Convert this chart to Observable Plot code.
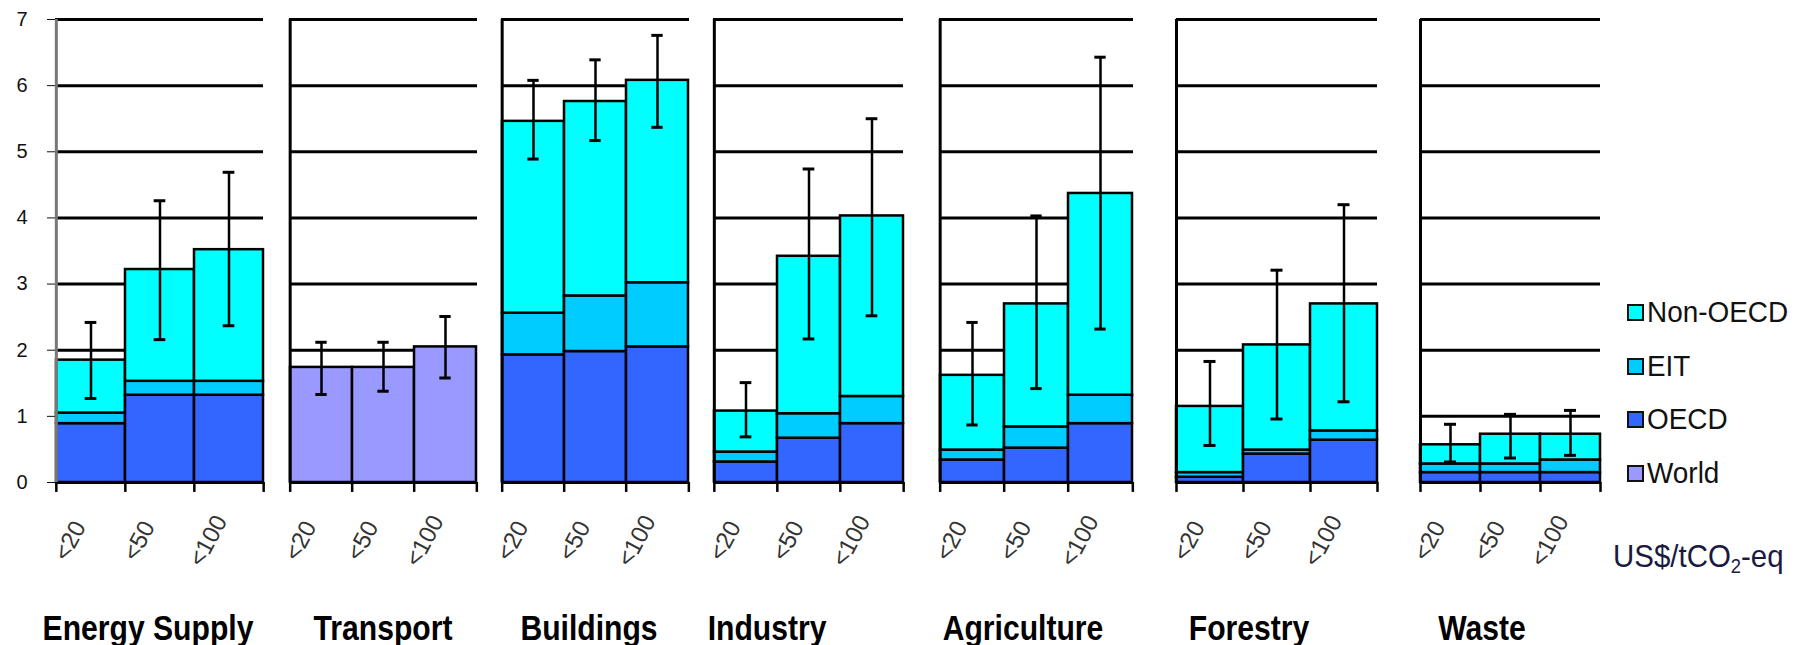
<!DOCTYPE html>
<html>
<head>
<meta charset="utf-8">
<script src="https://cdn.jsdelivr.net/npm/d3@7"></script>
<script src="https://cdn.jsdelivr.net/npm/@observablehq/plot@0.6"></script>
<style>
  body { margin: 0; background: #fff; }
  #chart { position: relative; width: 1794px; height: 645px; overflow: hidden;
           font-family: "Liberation Sans Narrow", "Liberation Sans", Arial, sans-serif; color: #111; }
  .panel { position: absolute; top: 0; }
  .title { position: absolute; top: 627px; transform: translate(-50%, -50%) scaleX(0.86); font-weight: bold;
           font-size: 35px; line-height: 1; white-space: nowrap; color: #000; }
  .legend { position: absolute; left: 1627px; top: 0; }
  .legend .row { position: absolute; left: 0; display: flex; align-items: center; transform: translateY(-50%); white-space: nowrap; }
  .legend .sw { width: 13px; height: 13px; border: 2.5px solid #111; margin-right: 3px; }
  .legend .lab { font-size: 30px; line-height: 1; color: #111; display: inline-block; transform: scaleX(0.93); transform-origin: left center; }
  .unit { position: absolute; left: 1613px; top: 558px; transform: translateY(-50%) scaleX(0.92); transform-origin: left center;
          font-size: 32px; line-height: 1; white-space: nowrap; color: #1a1a40; }
  .unit sub { font-size: 20px; vertical-align: -6px; }
</style>
</head>
<body>
<div id="chart"></div>
<script>
// ---- data: economic mitigation potential by sector in 2030 (GtCO2-eq/yr) ----
const sectors = ["Energy Supply", "Transport", "Buildings", "Industry", "Agriculture", "Forestry", "Waste"];
const prices = ["<20", "<50", "<100"];
const regions = ["OECD", "EIT", "Non-OECD", "World"];
const legendOrder = ["Non-OECD", "EIT", "OECD", "World"];
const regionColors = ["#3366FF", "#00CCFF", "#00FFFF", "#9999FF"];
const yTicks = [0, 1, 2, 3, 4, 5, 6, 7];

// segment heights per sector x price (7 sectors x 3 prices)
const oecd    = [0.89, 1.32, 1.32,  0, 0, 0,  1.93, 1.98, 2.05,  0.31, 0.67, 0.89,  0.34, 0.52, 0.89,  0.08, 0.43, 0.64,  0.15, 0.15, 0.15];
const eit     = [0.16, 0.21, 0.21,  0, 0, 0,  0.63, 0.84, 0.97,  0.15, 0.37, 0.41,  0.15, 0.32, 0.43,  0.07, 0.06, 0.14,  0.13, 0.13, 0.19];
const nonOecd = [0.80, 1.69, 1.99,  0, 0, 0,  2.90, 2.94, 3.06,  0.62, 2.38, 2.73,  1.13, 1.86, 3.05,  1.00, 1.59, 1.92,  0.29, 0.45, 0.39];
const world   = [0, 0, 0,  1.74, 1.74, 2.05,  0, 0, 0,  0, 0, 0,  0, 0, 0,  0, 0, 0,  0, 0, 0];
const errLow  = [1.27, 2.16, 2.37,  1.33, 1.38, 1.58,  4.89, 5.17, 5.37,  0.69, 2.17, 2.52,  0.87, 1.42, 2.32,  0.56, 0.96, 1.22,  0.31, 0.37, 0.41];
const errHigh = [2.42, 4.26, 4.69,  2.12, 2.12, 2.51,  6.08, 6.39, 6.76,  1.51, 4.74, 5.50,  2.42, 4.03, 6.43,  1.83, 3.21, 4.20,  0.88, 1.03, 1.09];

// ---- layout (pixels) ----
const panels = [
  {left: 55,   width: 208, titleX: 148},
  {left: 289,  width: 188, titleX: 383},
  {left: 501,  width: 188, titleX: 589},
  {left: 713,  width: 190, titleX: 767},
  {left: 939,  width: 194, titleX: 1023},
  {left: 1176, width: 201, titleX: 1249},
  {left: 1420, width: 180, titleX: 1482}
];

const chart = document.getElementById("chart");
const series = [oecd, eit, nonOecd, world];

sectors.forEach((sector, si) => {
  const p = panels[si];
  const ml = si === 0 ? 55 : 34, mr = 20;
  const bw = p.width / prices.length;
  const rows = [];
  const errs = [];
  prices.forEach((price, pi) => {
    const k = si * 3 + pi;
    regions.forEach((r, ri) => {
      const v = series[ri][k];
      if (v > 0) rows.push({price, region: r, value: v});
    });
    errs.push({price, lo: errLow[k], hi: errHigh[k]});
  });
  const capInset = (bw - 12) / 2;
  const svg = Plot.plot({
    width: p.width + ml + mr,
    height: 600,
    marginLeft: ml, marginRight: mr, marginTop: 19, marginBottom: 118,
    style: {fontFamily: "'Liberation Sans Narrow', 'Liberation Sans', Arial, sans-serif", fontSize: "20px", color: "#111", background: "transparent", overflow: "visible"},
    x: {type: "band", domain: prices, padding: 0, axis: null},
    y: si === 0
      ? {domain: [0, 7], ticks: yTicks, tickSize: 8, tickPadding: 20, label: null, tickFormat: d => d}
      : {domain: [0, 7], axis: null},
    color: {domain: regions, range: regionColors},
    marks: [
      Plot.ruleY(yTicks.filter(v => v > 0), {stroke: "#000", strokeWidth: 3}),
      Plot.barY(rows, {x: "price", y: "value", fill: "region", order: regions, stroke: "#000", strokeWidth: 2.5, inset: 0}),
      Plot.ruleY([0], {stroke: "#000", strokeWidth: 3}),
      Plot.ruleX([prices[0]], {y1: 0, y2: 7, dx: -bw / 2, stroke: si === 0 ? "#777" : "#000", strokeWidth: 3}),
      Plot.ruleX(prices, {y1: 0, y2: -0.15, dx: -bw / 2, stroke: "#000", strokeWidth: 2.5}),
      Plot.ruleX([prices[prices.length - 1]], {y1: 0, y2: -0.15, dx: bw / 2, stroke: "#000", strokeWidth: 2.5}),
      Plot.ruleX(errs, {x: "price", y1: "lo", y2: "hi", stroke: "#000", strokeWidth: 2.5}),
      Plot.tickY(errs, {x: "price", y: "lo", insetLeft: capInset, insetRight: capInset, stroke: "#000", strokeWidth: 3}),
      Plot.tickY(errs, {x: "price", y: "hi", insetLeft: capInset, insetRight: capInset, stroke: "#000", strokeWidth: 3}),
      Plot.text(prices, {x: d => d, frameAnchor: "bottom", dy: 62, dx: -14, rotate: -62, textAnchor: "middle",
                         fontSize: 24, fill: "#333"})
    ]
  });
  svg.classList.add("panel");
  svg.style.left = (p.left - ml) + "px";
  chart.appendChild(svg);

  const t = document.createElement("div");
  t.className = "title";
  t.style.left = p.titleX + "px";
  t.textContent = sector;
  chart.appendChild(t);
});

// legend
const legend = document.createElement("div");
legend.className = "legend";
const rowY = [312, 366, 419, 473];
legendOrder.forEach((r, i) => {
  const row = document.createElement("div");
  row.className = "row";
  row.style.top = rowY[i] + "px";
  const sw = document.createElement("div");
  sw.className = "sw";
  sw.style.background = regionColors[regions.indexOf(r)];
  const lab = document.createElement("span");
  lab.className = "lab";
  lab.textContent = r;
  row.appendChild(sw); row.appendChild(lab);
  legend.appendChild(row);
});
chart.appendChild(legend);

const unit = document.createElement("div");
unit.className = "unit";
unit.innerHTML = "US$/tCO<sub>2</sub>-eq";
chart.appendChild(unit);
</script>
</body>
</html>
